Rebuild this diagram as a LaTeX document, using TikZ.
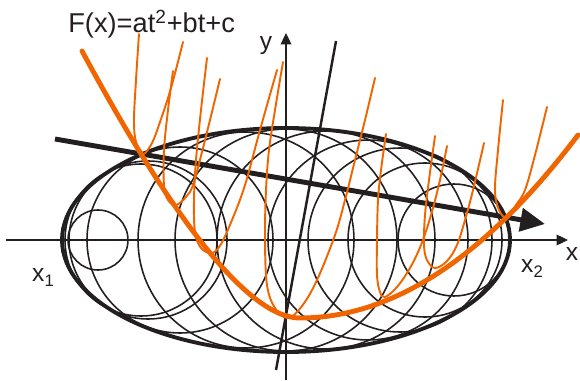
\documentclass[tikz,border=0pt]{standalone}
\usepackage{fontspec}
\setmainfont{Liberation Sans}
\usetikzlibrary{arrows.meta}
\definecolor{tinta}{RGB}{35,31,32}
\definecolor{naranja}{RGB}{241,101,0}
\newcommand{\lowidx}[1]{\raisebox{-0.4ex}{\fontsize{9.5}{10}\selectfont #1}}

\begin{document}
\begin{tikzpicture}[x=0.02cm, y=-0.02cm,
      contour/.style = {draw=tinta, line width=2.2pt},
      ring/.style    = {draw=tinta, line width=0.9pt},
      axis/.style    = {draw=tinta, line width=1.1pt, -{Triangle[length=6.5pt,width=6pt]}},
      tilt/.style    = {draw=tinta, line width=1.4pt},
      heavy/.style   = {draw=tinta, line width=2.8pt, -{Triangle[length=14pt,width=13pt]}},
      trend/.style   = {draw=naranja, line width=2.8pt, line cap=round},
      sample/.style  = {draw=naranja, line width=1.1pt, line cap=round},
      lbl/.style     = {inner sep=0pt, text=tinta, font=\fontsize{14}{16}\selectfont},
    ]
    \useasboundingbox (0,0) rectangle (580,381);

    % ── Puntos de los ejes ───────────────────────────────────────
    \coordinate (O)  at (286,240);
    \coordinate (xs) at (6,240);    \coordinate (xe) at (568,240);
    \coordinate (ys) at (286,380);  \coordinate (ye) at (286,33);
    \coordinate (ts) at (55,139);   \coordinate (te) at (545,224);
    \coordinate (ss) at (276,370);  \coordinate (se) at (336,41);

    % ── Elipse y familia de circulos ─────────────────────────────
    \draw[contour] (O) ellipse[x radius=224, y radius=112];
    \foreach \cx/\r in {98/30, 141/76, 148/79, 180/93, 246/108, 286/111,
                        326/109, 368/100, 400/92, 425/77, 454/56}
      \draw[ring] (\cx,240) circle[radius=\r];

    % ── Ejes ─────────────────────────────────────────────────────
    \draw[axis] (xs) -- (xe);
    \draw[axis] (ys) -- (ye);
    \draw[tilt] (ss) -- (se);
    \draw[heavy] (ts) -- (te);

    % ── Parabola principal ───────────────────────────────────────
    \coordinate (pa) at (82,51);
    \coordinate (pv) at (300,318);
    \coordinate (pb) at (578,135);
    \draw[trend] (pa) .. controls (178,229) and (251,318) .. (pv)
                      .. controls (393,318) and (486,257) .. (pb);

    % ── Parabolas finas ──────────────────────────────────────────
    \draw[sample] plot[smooth, tension=0.6] coordinates {
      (139,34) (136,80) (134,120) (136,142) (143,154) (152,143) (160,122) (171,88) (183,42)};
    \draw[sample] plot[smooth, tension=0.6] coordinates {
      (173,71) (168,110) (164,150) (164,185) (168,200) (176,205) (186,197) (193,185) (202,152) (210,120) (220,79)};
    \draw[sample] plot[smooth, tension=0.6] coordinates {
      (207,58) (201,110) (196,160) (194,200) (195,232) (201,248) (212,253) (221,244) (232,220) (245,185) (260,130) (277,70)};
    \draw[sample] plot[smooth, tension=0.6] coordinates {
      (283,62) (275,110) (269,150) (266,190) (265,240) (267,285) (275,308) (288,318) (302,306) (317,280) (335,235) (345,200) (355,160) (365,120) (375,78)};
    \draw[sample] plot[smooth, tension=0.6] coordinates {
      (386,134) (381,170) (378,200) (377,240) (377,275) (380,292) (385,297) (397,287) (410,268) (421,245) (431,215) (440,180) (447,146)};
    \draw[sample] plot[smooth, tension=0.6] coordinates {
      (435,136) (429,180) (425,215) (424,245) (427,260) (435,268) (447,261) (457,245) (465,220) (473,190) (484,143)};
    \draw[sample] plot[smooth, tension=0.6] coordinates {
      (503,100) (498,150) (495,190) (499,210) (507,218) (516,205) (525,190) (535,155) (547,107)};

    % ── Rotulos ──────────────────────────────────────────────────
    \node[lbl, anchor=base west, font=\fontsize{15.5}{18}\selectfont] (formula) at (68,33)
      {F(x)=at\textsuperscript{2}+bt+c};
    \node[lbl, anchor=base] (ylab)  at (266,50)  {y};
    \node[lbl, anchor=base] (xlab)  at (572,260) {x};
    \node[lbl, anchor=base] (x1lab) at (43,281)  {x\lowidx{1}};
    \node[lbl, anchor=base] (x2lab) at (532,272) {x\lowidx{2}};

  \end{tikzpicture}
\end{document}
